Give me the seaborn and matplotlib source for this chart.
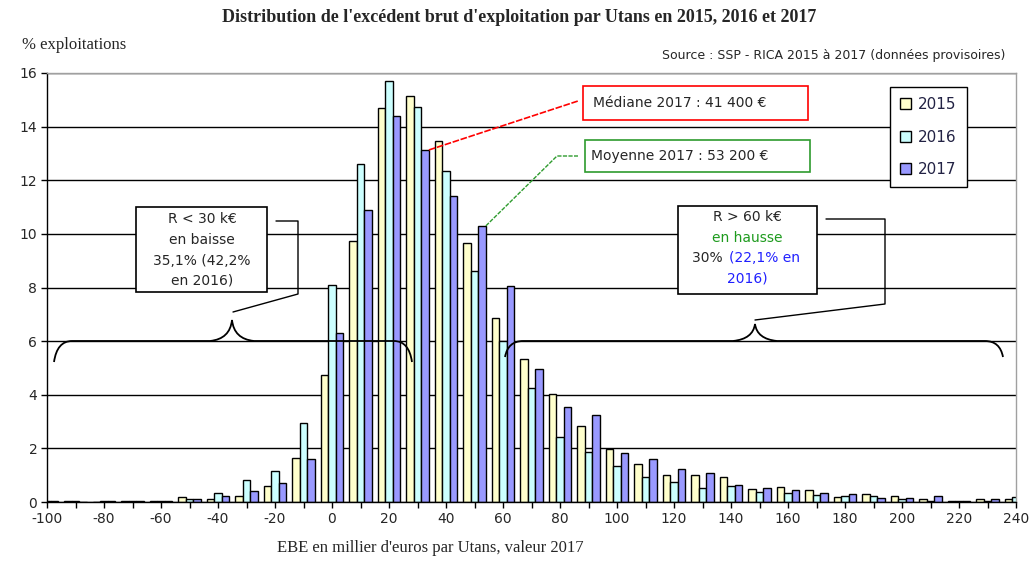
import pandas as pd
import seaborn as sns
import matplotlib.pyplot as plt
from matplotlib.lines import Line2D
from matplotlib.patches import Rectangle, PathPatch
from matplotlib.path import Path

# classes d'EBE (milliers d'euros par Utans), pas de 10
classes = list(range(-100, 250, 10))
annees = ['2015', '2016', '2017']
couleurs = ['#FFFFCC', '#CCFFFF', '#9999FF']

pct_2015 = [0.02, 0.03, 0.00, 0.03, 0.04, 0.17, 0.11, 0.23, 0.61, 1.65,
            4.74, 9.75, 14.70, 15.16, 13.45, 9.65, 6.85, 5.32, 4.03, 2.84,
            1.99, 1.42, 1.01, 1.01, 0.92, 0.50, 0.57, 0.45, 0.17, 0.30,
            0.22, 0.10, 0.03, 0.10, 0.10]
pct_2016 = [0.02, 0.04, 0.03, 0.04, 0.04, 0.10, 0.35, 0.83, 1.17, 2.95,
            8.10, 12.60, 15.70, 14.75, 12.36, 8.63, 6.02, 4.27, 2.41, 1.88,
            1.35, 0.92, 0.76, 0.51, 0.61, 0.39, 0.32, 0.26, 0.22, 0.22,
            0.10, 0.04, 0.03, 0.05, 0.17]
pct_2017 = [0.02, 0.00, 0.04, 0.04, 0.05, 0.12, 0.24, 0.41, 0.70, 1.60,
            6.32, 10.90, 14.40, 13.13, 11.42, 10.30, 8.05, 4.96, 3.56, 3.25,
            1.83, 1.59, 1.22, 1.07, 0.63, 0.51, 0.45, 0.35, 0.30, 0.14,
            0.16, 0.22, 0.03, 0.10, 0.10]

titre = "Distribution de l'excédent brut d'exploitation par Utans en 2015, 2016 et 2017"
source = "Source : SSP - RICA 2015 à 2017 (données provisoires)"

df = pd.DataFrame({
    'classe': classes * 3,
    'annee': [a for a in annees for _ in classes],
    'pct': pct_2015 + pct_2016 + pct_2017,
})

sns.set_style('white')
plt.rcParams['font.family'] = ['DejaVu Sans']

W, H = 1032, 563
fig = plt.figure(figsize=(W / 100, H / 100), dpi=100)
tr = fig.dpi_scale_trans


def P(px, py):
    # pixels (origine en haut a gauche) -> pouces
    return px / 100, (H - py) / 100


ax = fig.add_axes([47 / W, 1 - 502 / H, (1016 - 47) / W, (502 - 73) / H])
sns.barplot(data=df, x='classe', y='pct', hue='annee', order=classes,
            hue_order=annees, palette=dict(zip(annees, couleurs)),
            saturation=1, edgecolor='black', linewidth=1, width=0.8,
            errorbar=None, ax=ax)

ax.set_xlim(0, len(classes) - 1)
ax.set_ylim(0, 16)
ax.set_yticks(range(0, 17, 2))
ax.set_xticks(range(len(classes)))
ax.set_xticklabels([str(c) if c % 20 == 0 else '' for c in classes])
ax.yaxis.grid(True, color='black', linewidth=1)
ax.xaxis.grid(False)
ax.set_axisbelow(True)
ax.tick_params(axis='both', direction='out', length=4, width=1,
               color='black', labelsize=10, pad=3, bottom=True, left=True)
ax.set_xlabel('')
ax.set_ylabel('')
for s in ['left', 'bottom']:
    ax.spines[s].set_color('black')
    ax.spines[s].set_linewidth(1)
for s in ['top', 'right']:
    ax.spines[s].set_color('#A0A0A0')
    ax.spines[s].set_linewidth(1)

handles, labels = ax.get_legend_handles_labels()
leg = ax.legend(handles, labels, loc='upper left',
                bbox_to_anchor=P(890, 87), bbox_transform=tr,
                borderaxespad=0,
                frameon=True, fancybox=False, framealpha=1, edgecolor='black',
                handlelength=0.7, handleheight=0.7, handletextpad=0.5,
                labelspacing=1.15, borderpad=0.65, fontsize=11)
leg.get_frame().set_linewidth(1)
for t in leg.get_texts():
    t.set_color('#222244')

# textes
fig.text(*P(519, 18), titre, transform=tr, ha='center', va='center',
         family='Liberation Serif', weight='bold', fontsize=13)
fig.text(*P(22, 45), '% exploitations', transform=tr, ha='left', va='center',
         family='Liberation Serif', fontsize=12)
fig.text(*P(430, 548), "EBE en millier d'euros par Utans, valeur 2017",
         transform=tr, ha='center', va='center', family='Liberation Serif',
         fontsize=12)
fig.text(*P(1005, 55), source, transform=tr, ha='right', va='center',
         fontsize=9)


def boite(x0, y0, x1, y1, couleur):
    fig.add_artist(Rectangle(P(x0, y1), (x1 - x0) / 100, (y1 - y0) / 100,
                             transform=tr, facecolor='white',
                             edgecolor=couleur, linewidth=1.2, zorder=5))


def trait(pts, couleur='black', lw=1.0, ls='-'):
    xs = [P(*p)[0] for p in pts]
    ys = [P(*p)[1] for p in pts]
    fig.add_artist(Line2D(xs, ys, transform=tr, color=couleur, lw=lw,
                          ls=ls, zorder=6))


def accolade(x0, x1, xt, y, ytip, yend):
    pts = [P(x0, yend), P(x0 + 3, y), P(x0 + 18, y),
           P(xt - 22, y),
           P(xt - 2, y - 2), P(xt, ytip),
           P(xt + 2, y - 2), P(xt + 22, y),
           P(x1 - 18, y),
           P(x1 - 3, y), P(x1, yend)]
    codes = [Path.MOVETO, Path.CURVE3, Path.CURVE3, Path.LINETO,
             Path.CURVE3, Path.CURVE3, Path.CURVE3, Path.CURVE3,
             Path.LINETO, Path.CURVE3, Path.CURVE3]
    fig.add_artist(PathPatch(Path(pts, codes), transform=tr, fill=False,
                             edgecolor='black', lw=1.3, zorder=6))


# mediane et moyenne 2017 : traits partant du haut des barres
barres_2017 = ax.containers[2]
def coin(i):
    b = barres_2017[i]
    xd, yd = b.get_x() + b.get_width(), b.get_height()
    xp, yp = ax.transData.transform((xd, yd))
    return xp, H - yp

med = coin(classes.index(30))
moy = coin(classes.index(50))
trait([med, (578, 101)], couleur='red', lw=1.2, ls=(0, (4, 1)))
trait([moy, (557, 156), (578, 156)], couleur='#2E9B2E', lw=1.0,
      ls=(0, (3, 1)))

boite(583, 86, 808, 120, 'red')
fig.text(*P(593, 103), 'Médiane 2017 : 41 400 €', transform=tr, ha='left',
         va='center', fontsize=10, zorder=7)
boite(585, 140, 810, 172, '#2E9B2E')
fig.text(*P(591, 156), 'Moyenne 2017 : 53 200 €', transform=tr, ha='left',
         va='center', fontsize=10, zorder=7)

# R < 30 k€
boite(136, 207, 267, 292, 'black')
for ligne, yy in zip(['R < 30 k€', 'en baisse', '35,1% (42,2%', 'en 2016)'],
                     [219, 240, 261, 281]):
    fig.text(*P(202, yy), ligne, transform=tr, ha='center', va='center',
             fontsize=10, zorder=7)
trait([(276, 221), (298, 221), (298, 294), (233, 312)])
accolade(54, 412, 232, 341, 320, 362)

# R > 60 k€
boite(678, 206, 817, 294, 'black')
fig.text(*P(747, 217), 'R > 60 k€', transform=tr, ha='center', va='center',
         fontsize=10, zorder=7)
fig.text(*P(747, 238), 'en hausse', transform=tr, ha='center', va='center',
         fontsize=10, color='#1E9B1E', zorder=7)
fig.text(*P(727, 258), '30% ', transform=tr, ha='right', va='center',
         fontsize=10, zorder=7)
fig.text(*P(729, 258), '(22,1% en', transform=tr, ha='left', va='center',
         fontsize=10, color='#2020FF', zorder=7)
fig.text(*P(747, 278), '2016)', transform=tr, ha='center', va='center',
         fontsize=10, color='#2020FF', zorder=7)
trait([(826, 219), (885, 219), (885, 304), (755, 320)])
accolade(505, 1003, 755, 341, 324, 357)

fig.savefig('out.png', dpi=100)
